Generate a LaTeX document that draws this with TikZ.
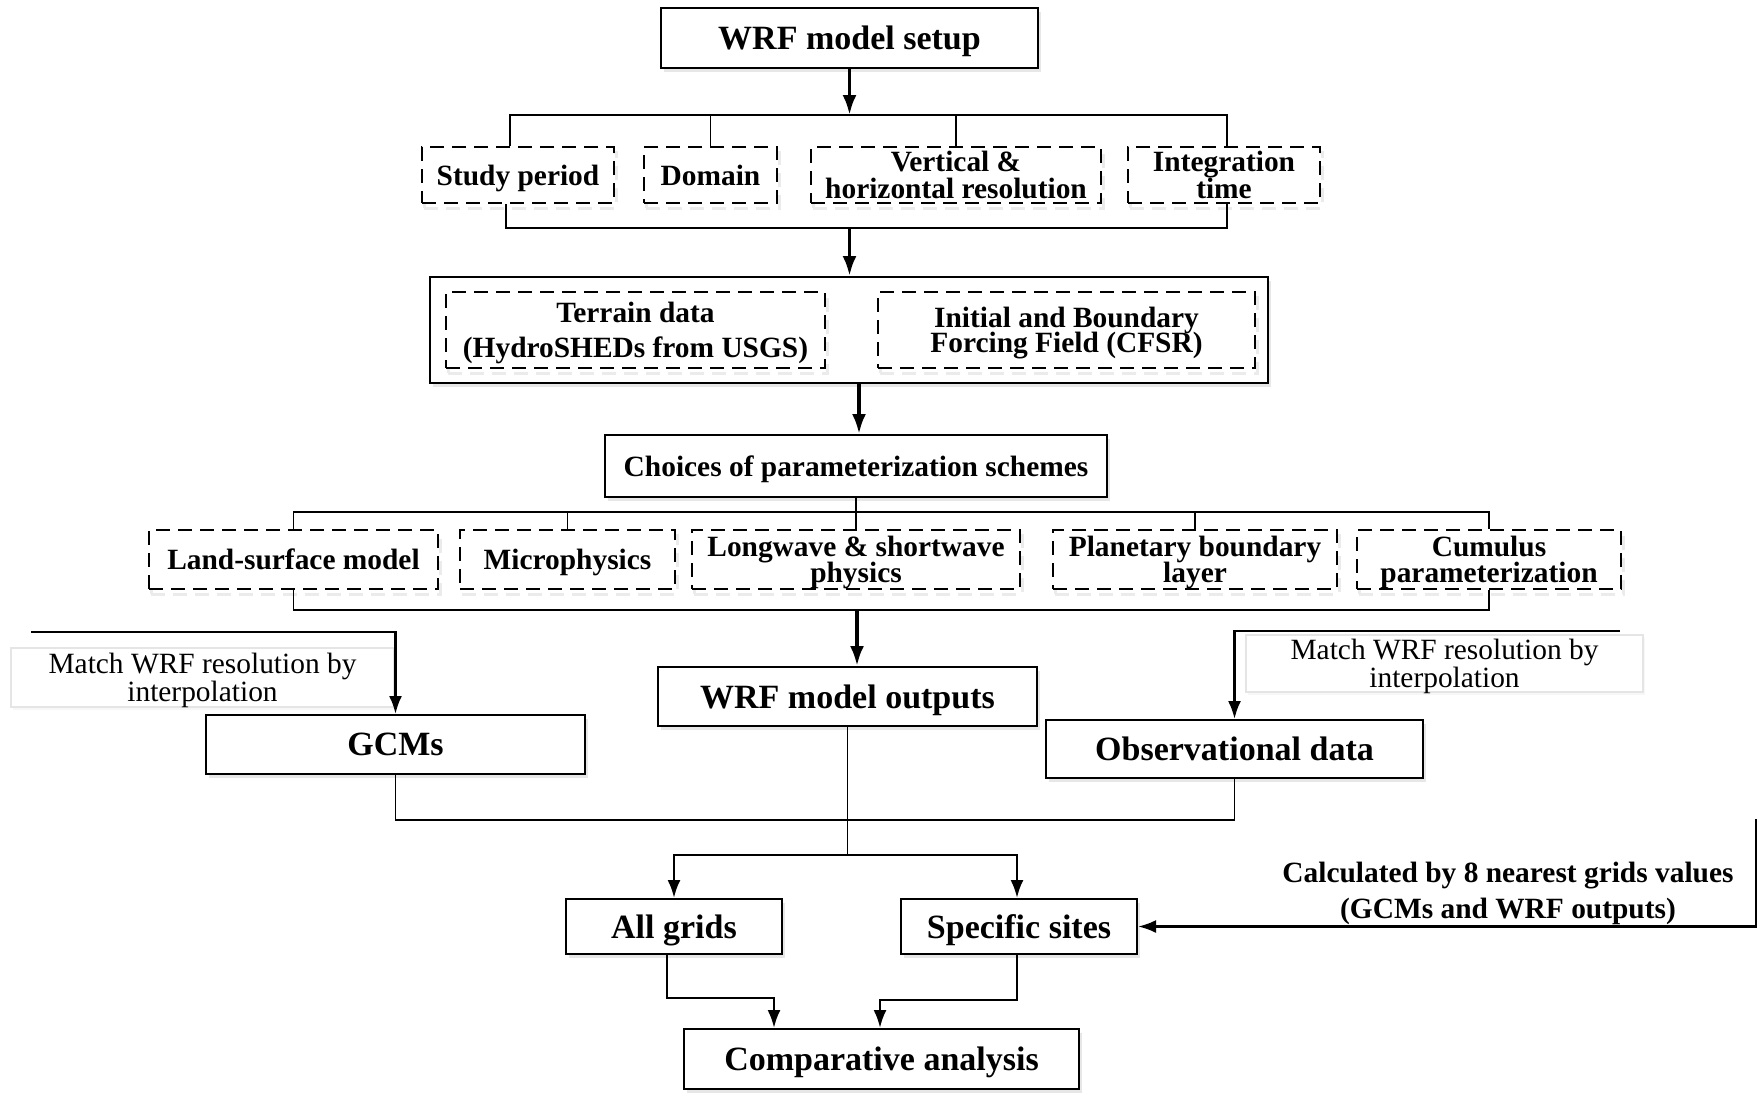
\documentclass[tikz,border=0pt]{standalone}
\usepackage{fontspec}
\setmainfont{Liberation Serif}
\usetikzlibrary{arrows.meta,shadows,calc}
\newcommand\tightls{\lineskiplimit-100pt\relax}
\begin{document}
\begin{tikzpicture}[x=0.5pt,y=-0.5pt,
  mid/.style={font={\bfseries\fontsize{14.7}{#1}\selectfont\tightls}},
  mid/.default=17,
  big/.style={font={\bfseries\fontsize{17}{20}\selectfont}},
  base/.style={draw=black, line width=1pt, fill=white, inner sep=0pt, align=center, text depth=0pt},
  solidbox/.style={base, drop shadow={shadow xshift=1.5pt,shadow yshift=-2pt,fill=black!18}},
  dashbox/.style={base, dash pattern=on 7pt off 4pt,
     drop shadow={shadow xshift=1pt,shadow yshift=-2.5pt,fill=none,draw=black!15,line width=1.5pt,dash pattern=on 7pt off 4pt}},
  labbox/.style={draw=black!10, line width=1pt, fill=white, inner sep=0pt, align=center, text depth=0pt,
     drop shadow={shadow xshift=1pt,shadow yshift=-1.5pt,fill=black!6},
     font={\fontsize{14.7}{14}\selectfont\tightls}},
  conn/.style={line width=0.9pt},
  arr/.style={line width=0.9pt,-{Latex[length=9pt,width=6.5pt]}},
  tarr/.style={line width=1.3pt,-{Latex[length=9pt,width=6.5pt]}},
  bigarr/.style={line width=1.8pt,-{Latex[length=10pt,width=7pt]}}
]
\useasboundingbox (0,0) rectangle (1764,1114);
\fill[white] (0,0) rectangle (1764,1114);

% boxes
\node[solidbox, big, minimum width=188.5pt, minimum height=30pt] (setup) at (849.5,38) {WRF model setup};

\node[dashbox, mid, minimum width=96pt, minimum height=28pt] (sp) at (518,175) {Study period};
\node[dashbox, mid, minimum width=66.5pt, minimum height=28pt] (dom) at (710.5,175) {Domain};
\node[dashbox, mid=13.5, minimum width=145pt, minimum height=28pt] (vh) at (956,175) {Vertical \&\\horizontal resolution};
\node[dashbox, mid=13.5, minimum width=96pt, minimum height=28pt] (it) at (1224,175) {Integration\\time};

\node[solidbox, minimum width=419pt, minimum height=53pt] (outer) at (849,330) {};
\node[dashbox, mid=17.5, minimum width=189.5pt, minimum height=38pt] (ter) at (635.5,330) {Terrain data\\(HydroSHEDs from USGS)};
\node[dashbox, mid=12.6, minimum width=188.5pt, minimum height=38pt] (ini) at (1066.5,330) {Initial and Boundary\\Forcing Field (CFSR)};

\node[solidbox, mid, minimum width=251pt, minimum height=31pt] (cho) at (856,466) {Choices of parameterization schemes};

\node[dashbox, mid, minimum width=144.5pt, minimum height=29.5pt] (land) at (293.5,559.5) {Land-surface model};
\node[dashbox, mid, minimum width=107.5pt, minimum height=29.5pt] (micro) at (567.5,559.5) {Microphysics};
\node[dashbox, mid=13, minimum width=164pt, minimum height=29.5pt] (long) at (856,559.5) {Longwave \& shortwave\\physics};
\node[dashbox, mid=13, minimum width=142pt, minimum height=29.5pt] (plan) at (1195,559.5) {Planetary boundary\\layer};
\node[dashbox, mid=13, minimum width=132pt, minimum height=29.5pt] (cum) at (1489,559.5) {Cumulus\\parameterization};

\node[solidbox, big, minimum width=189.5pt, minimum height=29.5pt] (out) at (847.5,696.5) {WRF model outputs};
\node[solidbox, big, minimum width=189.5pt, minimum height=29.5pt] (gcm) at (395.5,744.5) {GCMs};
\node[solidbox, big, minimum width=188.5pt, minimum height=29pt] (obs) at (1234.5,749) {Observational data};

\node[labbox, minimum width=191.5pt, minimum height=29.5pt] (lab1) at (202.5,677.5) {Match WRF resolution by\\interpolation};
\node[labbox, minimum width=198.5pt, minimum height=28.5pt] (lab2) at (1444.5,663.5) {Match WRF resolution by\\interpolation};

\node[solidbox, big, minimum width=108pt, minimum height=27.5pt] (allg) at (674,926.5) {All grids};
\node[solidbox, big, minimum width=118pt, minimum height=27.5pt] (spec) at (1019,926.5) {Specific sites};
\node[solidbox, big, minimum width=197.5pt, minimum height=30pt] (comp) at (881.5,1059) {Comparative analysis};

\node[mid=18, align=center, inner sep=0pt] (calc) at (1508,893) {Calculated by 8 nearest grids values\\(GCMs and WRF outputs)};

% connectors
\coordinate (b1) at (849.5,115);
\draw[bigarr] (setup.south) -- (b1);
\draw[conn] ([xshift=-4pt]sp.north) |- (b1) -| ([xshift=1.5pt]it.north);
\draw[conn] (dom.north) -- (dom.north |- b1);
\draw[conn] (vh.north) -- (vh.north |- b1);

\coordinate (b2) at (849.5,228);
\draw[conn] ([xshift=-6pt]sp.south) |- (b2) -| ([xshift=1.5pt]it.south);
\draw[bigarr] (b2) -- (b2 |- outer.north);

\draw[bigarr] ([xshift=1.5pt]outer.south -| cho.north) -- ([xshift=1.5pt]cho.north);

\coordinate (b3) at (856,512);
\draw[conn] (cho.south) -- (b3);
\draw[conn] (land.north) |- (b3) -| (cum.north);
\draw[conn] (micro.north) -- (micro.north |- b3);
\draw[conn] (long.north) -- (long.north |- b3);
\draw[conn] (plan.north) -- (plan.north |- b3);

\coordinate (b4) at (857,610);
\draw[conn] (land.south) |- (b4) -| (cum.south);
\draw[bigarr] (b4) -- (b4 |- out.north);

\coordinate (f1) at (31,632);
\draw[tarr] (f1) -| (gcm.north);
\coordinate (f2) at (1620,631);
\draw[tarr] (f2) -| (obs.north);

\coordinate (b5) at (848,820);
\draw[conn] (gcm.south) |- (b5) -| (obs.south);
\coordinate (b6) at (848,855);
\draw[conn] (out.south) -- (out.south |- b6);
\draw[tarr] (b6) -| (allg.north);
\draw[tarr] (b6) -| ([xshift=-1pt]spec.north);

\coordinate (f3) at (1756,819);
\draw[tarr] (f3) |- (spec.east);

\coordinate (c1) at (774,998);
\draw[tarr] ([xshift=-3.5pt]allg.south) |- (c1) -- (c1 |- comp.north);
\coordinate (c2) at (880,1000);
\draw[tarr] ([xshift=-1pt]spec.south) |- (c2) -- (c2 |- comp.north);
\end{tikzpicture}
\end{document}
